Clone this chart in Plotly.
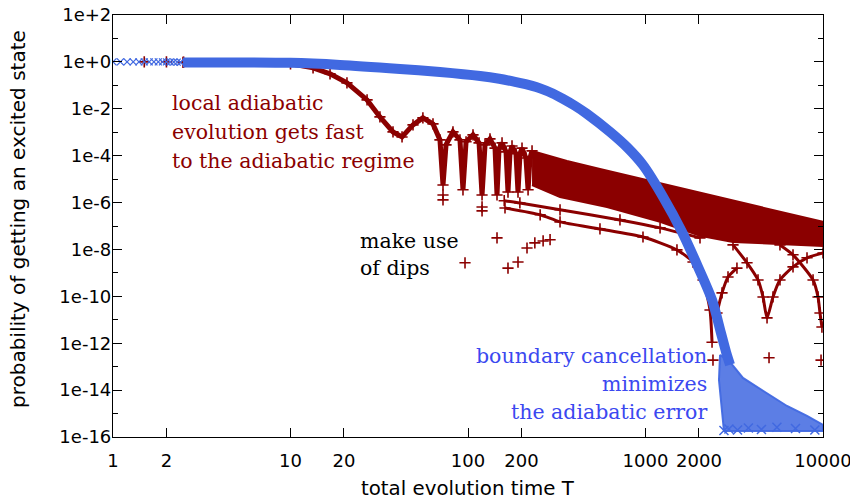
import plotly.graph_objects as go

RED = "#8b0000"
BLUE = "#4169e1"
BLUE_TXT = "#3b48f0"

# ---------------- data ----------------
# blue: boundary-cancellation schedule, discrete samples at small T
blue_dots_T = [1.0, 1.1, 1.2, 1.3, 1.4, 1.5, 1.6, 1.7, 1.8, 1.9, 2.0, 2.1, 2.2, 2.3, 2.4]
blue_dots_P = [1.0, 1.0, 1.0, 1.0, 1.0, 1.0, 1.0, 1.0, 1.0, 1.0, 1.0, 0.99, 0.99, 0.98, 0.97]
# blue main band
blue_T = [2.48, 10, 19, 41.4, 69.5, 117, 150, 184, 230, 255, 300, 343, 401, 468, 631,
          797, 968, 1256, 1607, 1977, 2371, 2663, 2844, 2995]
blue_P = [0.95, 0.91, 0.745, 0.50, 0.37, 0.25, 0.19, 0.14, 0.095, 0.074, 0.045, 0.0264,
          0.0133, 6.05e-3, 1.03e-3, 2.1e-4, 4.0e-5, 1.74e-6, 5.6e-8, 1.8e-9, 7.0e-11,
          2.7e-12, 4.2e-13, 1.2e-13]
# blue noisy tail (outline of the cloud of samples)
blue_tail_T = [2630, 2993, 3541, 4839, 6270, 8128, 10000, 10000, 2767, 2594, 2630]
blue_tail_P = [3.2e-13, 1.6e-13, 3.3e-14, 7.6e-15, 2.1e-15, 7.9e-16, 3.3e-16,
               1.8e-16, 1.8e-16, 2.7e-14, 3.2e-13]
blue_tail_marks_T = [2767, 2950, 3300, 3800, 4500, 5500, 7000, 9000]
blue_tail_marks_P = [1.9e-16, 2.2e-16, 2.0e-16, 2.4e-16, 2.1e-16, 2.6e-16, 2.3e-16, 2.0e-16]

# red: local adiabatic schedule
red_dots_T = [1.5, 2.0, 2.5]
red_dots_P = [1.0, 1.0, 0.97]
red_T = [2.48, 10, 13.4, 16.7, 20.8, 27.0, 31.9, 37.8, 42.5, 49.0, 55.7, 63.5, 69.5,
         72.3, 75.2, 82.3, 90.1, 93.7, 97.5, 106.7, 115.4, 120, 124.7, 133, 142,
         145.7, 149.5, 155.5, 163.8, 168, 172.5, 177, 186.4, 191.3, 196.3, 201.5,
         212, 218, 223.5, 229.5]
red_P = [0.95, 0.82, 0.555, 0.31, 0.127, 0.0239, 4.5e-3, 1.03e-3, 6.3e-4, 2.05e-3,
         4.1e-3, 2.26e-3, 4.7e-4, 5.6e-6, 2.9e-4, 1.03e-3, 4.7e-4, 3.5e-6, 3.9e-4,
         7.7e-4, 3.5e-4, 2.1e-6, 2.9e-4, 5.2e-4, 2.1e-4, 2.1e-6, 1.95e-4, 3.5e-4,
         1.45e-4, 2.8e-6, 1.45e-4, 2.6e-4, 1.2e-4, 2.8e-6, 1.2e-4, 2.1e-4, 8e-5,
         3.5e-6, 8e-5, 1.6e-4]
# dense band of aliased samples (outline)
band_T = [229.5, 361, 554, 851, 2028, 3112, 10000, 10000, 3112, 2028, 1208, 607, 330, 229.5]
band_P = [1.6e-4, 6.0e-5, 2.7e-5, 1.24e-5, 2.6e-6, 1.17e-6, 1.5e-7, 1.4e-8, 2.1e-8,
          3.8e-8, 1.5e-7, 6.5e-7, 1.74e-6, 5.6e-6]
# lower strands
strand1_T = [160, 196, 330, 718, 1208, 2028]
strand1_P = [1.2e-6, 9.6e-7, 4.9e-7, 1.82e-7, 8.3e-8, 3.1e-8]
arc1_T = [161.6, 255, 330, 554, 968, 1504, 1852, 2109, 2309, 2371]
arc1_P = [5.9e-7, 3.0e-7, 1.5e-7, 7.5e-8, 3.4e-8, 9.6e-9, 2.9e-9, 5.0e-10, 2.6e-11, 1.1e-12]
arc1b_T = [2529, 2699, 2917, 3275]
arc1b_P = [1.96e-11, 1.4e-10, 6.7e-10, 1.6e-9]
arc2_T = [3112, 3733, 4305, 4593, 4839, 5228, 5724, 6778, 8128, 10000]
arc2_P = [1.56e-8, 2.7e-9, 5.0e-10, 9.4e-11, 1.2e-11, 9.4e-11, 5.0e-10, 1.8e-9, 4.4e-9, 7.1e-9]
arc3_T = [5724, 6778, 8790, 9376, 9616, 9863]
arc3_P = [1.56e-8, 5.9e-9, 5.0e-10, 9.4e-11, 1.96e-11, 4.9e-12]
# isolated samples that fall into the dips
dips_T = [72.3, 72.3, 96.2, 120, 120, 145.7, 168, 191.3, 215, 238, 265, 290, 2400, 4966, 9750]
dips_P = [2.1e-6, 1.3e-6, 2.7e-9, 6.5e-7, 4.4e-7, 3.1e-8, 1.6e-9, 2.9e-9, 1.15e-8,
          1.9e-8, 2.3e-8, 2.6e-8, 1.9e-13, 2.4e-13, 1.9e-13]

y_major = [1e-16, 1e-14, 1e-12, 1e-10, 1e-8, 1e-6, 1e-4, 1e-2, 1, 1e2]
y_major_text = ["1e-16", "1e-14", "1e-12", "1e-10", "1e-8", "1e-6", "1e-4", "1e-2", "1e+0", "1e+2"]
y_minor = [1e-15, 1e-13, 1e-11, 1e-9, 1e-7, 1e-5, 1e-3, 1e-1, 1e1]
x_ticks = [1, 2, 10, 20, 100, 200, 1000, 2000, 10000]
x_ticks_text = ["1", "2", "10", "20", "100", "200", "1000", "2000", "10000"]

# ---------------- figure ----------------
fig = go.Figure()
redmk = dict(symbol="cross-thin", size=8, line=dict(color=RED, width=1.6), color=RED)
bluemk = dict(symbol="x-thin", size=7, line=dict(color=BLUE, width=1.3), color=BLUE)

fig.add_trace(go.Scatter(x=band_T, y=band_P, mode="lines", fill="toself",
                         fillcolor=RED, line=dict(color=RED, width=2), hoverinfo="skip"))
for tx, ty in [(strand1_T, strand1_P), (arc1_T, arc1_P), (arc1b_T, arc1b_P),
               (arc2_T, arc2_P), (arc3_T, arc3_P)]:
    fig.add_trace(go.Scatter(x=tx, y=ty, mode="lines+markers",
                             line=dict(color=RED, width=3, shape="spline", smoothing=0.6),
                             marker=redmk))
fig.add_trace(go.Scatter(x=red_T, y=red_P, mode="lines+markers",
                         line=dict(color=RED, width=5), marker=redmk))
fig.add_trace(go.Scatter(x=red_dots_T, y=red_dots_P, mode="markers", marker=redmk))
fig.add_trace(go.Scatter(x=dips_T, y=dips_P, mode="markers", marker=redmk))

fig.add_trace(go.Scatter(x=blue_tail_T, y=blue_tail_P, mode="lines", fill="toself",
                         fillcolor="rgba(65,105,225,0.86)",
                         line=dict(color="rgba(65,105,225,0.95)", width=2)))
fig.add_trace(go.Scatter(x=blue_tail_marks_T, y=blue_tail_marks_P, mode="markers",
                         marker=dict(symbol="x-thin", size=9, line=dict(color=BLUE, width=1.5))))
fig.add_trace(go.Scatter(x=blue_T, y=blue_P, mode="lines",
                         line=dict(color=BLUE, width=10, shape="spline", smoothing=0.8)))
fig.add_trace(go.Scatter(x=blue_dots_T, y=blue_dots_P, mode="markers", marker=bluemk))

axis_common = dict(showgrid=False, zeroline=False, showline=True, linecolor="black",
                   linewidth=1.2, mirror="ticks", ticks="inside", tickcolor="black",
                   tickwidth=1.2, ticklen=9, automargin=False, ticklabeloverflow="allow",
                   tickfont=dict(family="DejaVu Sans", size=18, color="black"))
fig.update_xaxes(type="log", range=[-0.00005, 4.00005], tickvals=x_ticks,
                 ticktext=x_ticks_text, ticklabelstandoff=7, **axis_common)
fig.update_yaxes(type="log", range=[-16.0001, 2.0001], tickvals=y_major,
                 ticktext=y_major_text, ticklabelstandoff=-3,
                 minor=dict(tickvals=y_minor, ticklen=5, ticks="inside", tickcolor="black",
                            tickwidth=1.2),
                 **axis_common)

def px2paper(px, py):
    return (px - 113) / 710, (437 - py) / 422

ann = []
serif = "DejaVu Serif"
for text, px, py, col, anchor in [
    ("local adiabatic", 170, 103, RED, "left"),
    ("evolution gets fast", 170, 132, RED, "left"),
    ("to the adiabatic regime", 170, 161, RED, "left"),
    ("make use", 358, 241, "black", "left"),
    ("of dips", 358, 268, "black", "left"),
    ("boundary cancellation", 709, 356, BLUE_TXT, "right"),
    ("minimizes", 709, 384, BLUE_TXT, "right"),
    ("the adiabatic error", 709, 412, BLUE_TXT, "right"),
]:
    ax, ay = px2paper(px, py)
    ann.append(dict(text=text, x=ax, y=ay, xref="paper", yref="paper", showarrow=False,
                    xanchor=anchor, yanchor="middle",
                    font=dict(family=serif, size=20.5, color=col)))
tx, ty = px2paper(18, 219)
ann.append(dict(text="probability of getting an excited state", x=tx, y=ty, xref="paper",
                yref="paper", showarrow=False, textangle=-90, xanchor="center",
                yanchor="middle", font=dict(family="DejaVu Sans", size=20, color="black")))
tx, ty = px2paper(468, 488)
ann.append(dict(text="total evolution time T", x=tx, y=ty, xref="paper", yref="paper",
                showarrow=False, xanchor="center", yanchor="middle",
                font=dict(family="DejaVu Sans", size=19.8, color="black")))

# the page body adds an 8 px margin, so the figure is 8 px smaller and shifted
fig.update_layout(width=850, height=492, margin=dict(l=105, r=35, t=7, b=63, autoexpand=False),
                  paper_bgcolor="white", plot_bgcolor="white", showlegend=False,
                  annotations=ann)
fig.write_html("out.html")
